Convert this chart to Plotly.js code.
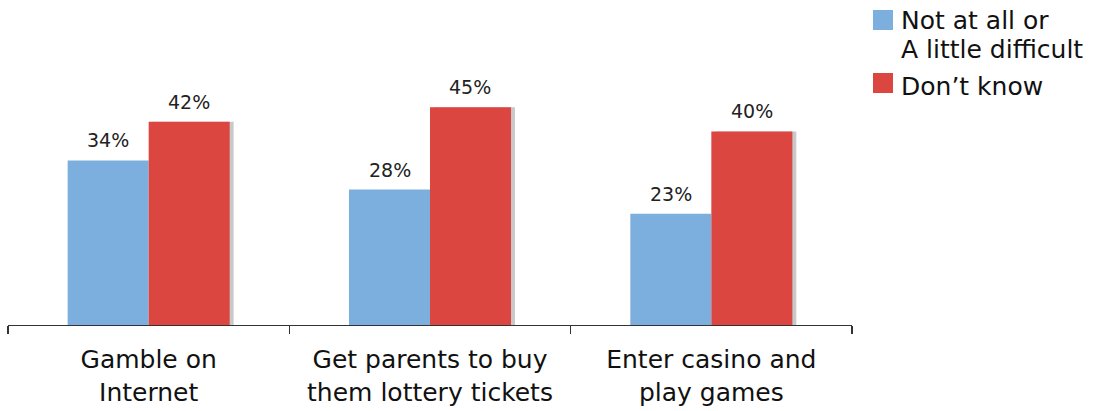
<!DOCTYPE html>
<html>
<head>
<meta charset="utf-8">
<script src="https://cdn.plot.ly/plotly-3.0.1.min.js"></script>
<style>html,body{margin:0;padding:0;background:#fff;}#chart{width:1095px;height:411px;}</style>
</head>
<body>
<div id="chart"></div>
<script>
const categories = ["Gamble on<br>Internet", "Get parents to buy<br>them lottery tickets", "Enter casino and<br>play games"];
const seriesNames = ["Not at all or<br>A little difficult", "Don\u2019t know"];
const notDifficult = [34, 28, 23];
const dontKnow = [42, 45, 40];
const colors = ["#7DAFDE", "#DB4641"];

const FONT = "DejaVu Sans, Verdana, sans-serif";
const barW = 0.288;

const traces = [
  {type: "bar", x: categories, y: notDifficult, name: seriesNames[0], marker: {color: colors[0]}, offset: -barW, width: barW, showlegend: false, hoverinfo: "none"},
  {type: "bar", x: categories, y: dontKnow, name: "shadow", marker: {color: "#c9c9c9"}, offset: 0.014, width: barW, showlegend: false, hoverinfo: "none"},
  {type: "bar", x: categories, y: dontKnow, name: seriesNames[1], marker: {color: colors[1]}, offset: 0, width: barW, showlegend: false, hoverinfo: "none"}
];

const annotations = [];
categories.forEach((c, i) => {
  annotations.push({x: c, y: notDifficult[i], xref: "x", yref: "y", text: notDifficult[i] + "%", showarrow: false, xshift: -barW * 281 / 2, yanchor: "bottom", yshift: 7, font: {family: FONT, size: 19, color: "#222"}});
  annotations.push({x: c, y: dontKnow[i], xref: "x", yref: "y", text: dontKnow[i] + "%", showarrow: false, xshift: barW * 281 / 2, yanchor: "bottom", yshift: 7, font: {family: FONT, size: 19, color: "#222"}});
});
// legend (drawn by hand to match the large square swatches)
const shapes = [];
const swatchTop = [10, 73];
const lineMid = [[21, 49], [86]];
seriesNames.forEach((n, i) => {
  shapes.push({type: "rect", xref: "paper", yref: "paper", x0: (873 - 8) / 844, x1: (893 - 8) / 844, y0: (325 - swatchTop[i]) / 315, y1: (325 - (swatchTop[i] + 20)) / 315, fillcolor: colors[i], line: {width: 0}});
  n.split("<br>").forEach((line, j) => {
    annotations.push({xref: "paper", yref: "paper", x: (899 - 8) / 844, y: (325 - lineMid[i][j]) / 315, xanchor: "left", yanchor: "middle", align: "left", showarrow: false, text: line, font: {family: FONT, size: 25, color: "#111"}});
  });
});

const layout = {
  width: 1095, height: 411,
  margin: {l: 8, r: 243, t: 10, b: 86},
  paper_bgcolor: "#fff", plot_bgcolor: "#fff",
  showlegend: false,
  font: {family: FONT, color: "#111"},
  xaxis: {
    type: "category", showline: true, linecolor: "#333", linewidth: 1.3,
    ticks: "outside", tickson: "boundaries", ticklen: 8, tickcolor: "#333", tickwidth: 1.3,
    tickfont: {family: FONT, size: 25, color: "#111"}, showgrid: false, zeroline: false,
    range: [-0.5, 2.5], ticklabelstandoff: 12
  },
  yaxis: {range: [0, 65.1], visible: false, showgrid: false, zeroline: false},
  annotations: annotations, shapes: shapes
};
Plotly.newPlot("chart", traces, layout, {displayModeBar: false, staticPlot: true});
</script>
</body>
</html>
